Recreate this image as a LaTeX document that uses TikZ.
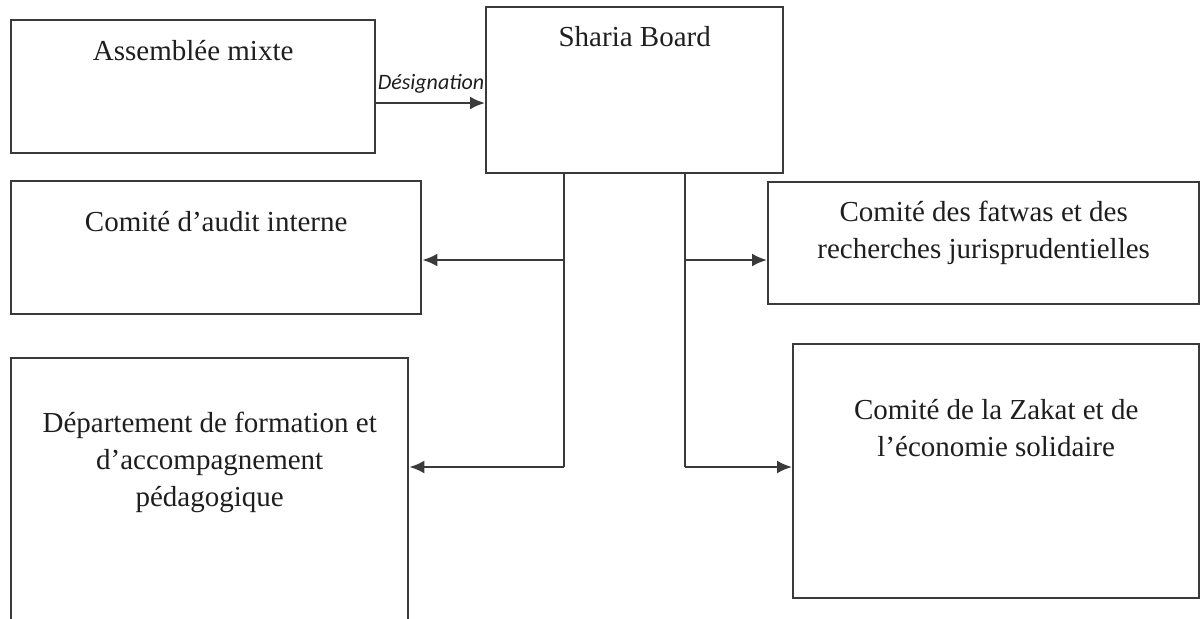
\documentclass[tikz,border=0pt]{standalone}
\usepackage{fontspec}
\setmainfont{Liberation Serif}
\newfontfamily\labelfont{Carlito}
\usepackage{xcolor}
\usetikzlibrary{arrows.meta,calc,positioning}
\definecolor{boxgray}{HTML}{3A3A3A}
\definecolor{textgray}{HTML}{1E1E1E}
\tikzset{
  orgbox/.style={draw=boxgray,line width=1.2pt,inner xsep=2pt,inner ysep=0pt,
    align=center,anchor=north west,text=textgray,
    font=\fontsize{14.5}{18.5}\selectfont},
  link/.style={boxgray,line width=1.1pt,-{Latex[length=7.5pt,width=6.5pt]}},
  trunk/.style={boxgray,line width=1.1pt},
  desig/.style={text=textgray,font=\labelfont\itshape\fontsize{11}{13}\selectfont,inner sep=0pt}
}
\begin{document}
\begin{tikzpicture}[x=0.5pt,y=-0.5pt]
  \useasboundingbox (0,0) rectangle (1200,618);
  \clip (0,0) rectangle (1200,618);
  \node[orgbox,minimum width=182pt,text height=20pt,text depth=46.5pt] (assemblee) at (10,19) {Assemblée mixte};
  \node[orgbox,minimum width=148.5pt,text height=19.5pt,text depth=63.5pt] (sharia) at (485,6) {Sharia Board};
  \node[orgbox,minimum width=205pt,text height=25pt,text depth=41.5pt] (audit) at (10,180) {Comité d’audit interne};
  \node[orgbox,minimum width=215.5pt,text height=38pt,text depth=23pt] (fatwas) at (767,181) {Comité des fatwas et des\\recherches jurisprudentielles};
  \node[orgbox,minimum width=198.5pt,text height=74pt,text depth=67.5pt] (dept) at (10,357) {Département de formation et\\d’accompagnement\\pédagogique};
  \node[orgbox,minimum width=203pt,text height=56pt,text depth=71pt] (zakat) at (792,343) {Comité de la Zakat et de\\l’économie solidaire};

  \coordinate (desigrow) at (430,103);
  \node[desig] (desiglabel) at (431,84) {Désignation};
  \draw[link] (desigrow -| assemblee.east) -- (desigrow -| sharia.west);

  \coordinate (leftmid) at (564,260);
  \coordinate (leftlow) at (564,467);
  \coordinate (rightmid) at (685,260);
  \coordinate (rightlow) at (685,467);
  \draw[trunk] (leftmid |- sharia.south) -- (leftlow);
  \draw[trunk] (rightmid |- sharia.south) -- (rightlow);
  \draw[link] (leftmid) -- (leftmid -| audit.east);
  \draw[link] (leftlow) -- (leftlow -| dept.east);
  \draw[link] (rightmid) -- (rightmid -| fatwas.west);
  \draw[link] (rightlow) -- (rightlow -| zakat.west);
\end{tikzpicture}
\end{document}
